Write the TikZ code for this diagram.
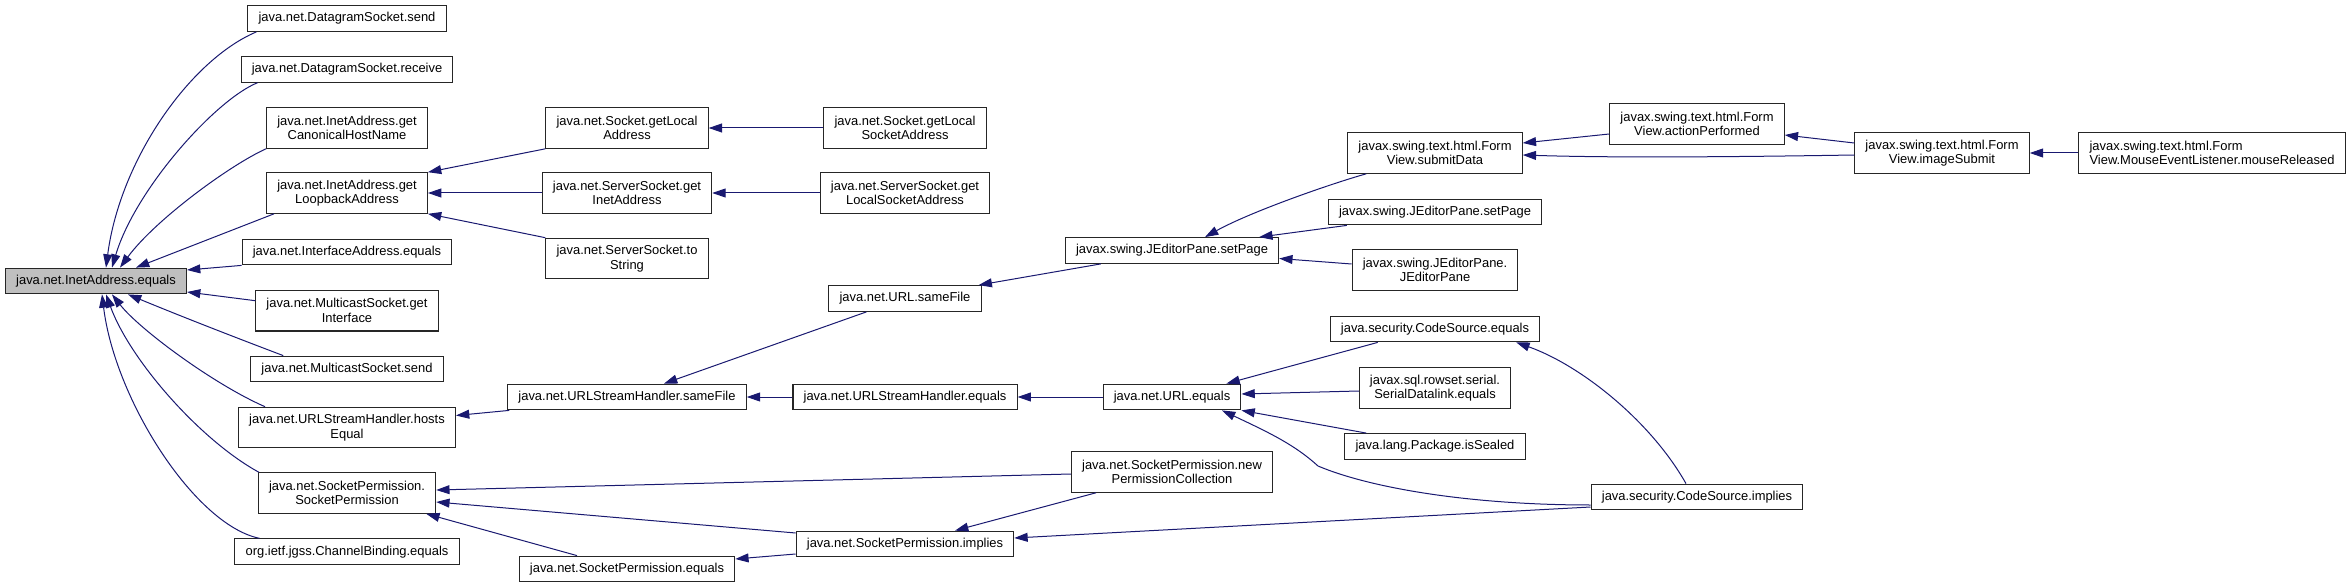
\documentclass[tikz,border=0pt]{standalone}
\usepackage{fontspec}
\setmainfont{Liberation Sans}
\usetikzlibrary{arrows.meta,calc}
\definecolor{edgeblue}{HTML}{191970}
\definecolor{rootgray}{HTML}{BFBFBF}
\begin{document}
\begin{tikzpicture}[x=0.75pt,y=-0.75pt,
  box/.style={draw=black!85,line width=0.8pt,fill=white,font=\fontsize{9.7pt}{11pt}\selectfont,inner xsep=8pt,inner ysep=2pt,minimum height=19.3pt,align=center},
  box2/.style={box,minimum height=30.4pt},
  edge/.style={draw=edgeblue,line width=0.75pt,-{Triangle[length=10pt,width=6.7pt]}}]
\useasboundingbox (0,0) rectangle (2352,588);

% root
\node[box,fill=rootgray] (root) at (96,281) {java.net.InetAddress.equals};

% column 1
\node[box]  (c1a) at (347,18.5)  {java.net.DatagramSocket.send};
\node[box]  (c1b) at (347,69.3)  {java.net.DatagramSocket.receive};
\node[box2] (c1c) at (347,128)   {java.net.InetAddress.get\\CanonicalHostName};
\node[box2] (c1d) at (347,193)   {java.net.InetAddress.get\\LoopbackAddress};
\node[box]  (c1e) at (347,252)   {java.net.InterfaceAddress.equals};
\node[box2] (c1f) at (347,310.7) {java.net.MulticastSocket.get\\Interface};
\node[box]  (c1g) at (347,369)   {java.net.MulticastSocket.send};
\node[box2] (c1h) at (347,427.5) {java.net.URLStreamHandler.hosts\\Equal};
\node[box2] (c1i) at (347,493)   {java.net.SocketPermission.\\SocketPermission};
\node[box]  (c1j) at (347,551.7) {org.ietf.jgss.ChannelBinding.equals};

% column 2
\node[box2] (sgla)  at (627,128)   {java.net.Socket.getLocal\\Address};
\node[box2] (ssgi)  at (627,193)   {java.net.ServerSocket.get\\InetAddress};
\node[box2] (ssts)  at (627,258.5) {java.net.ServerSocket.to\\String};
\node[box]  (ushsf) at (627,397)   {java.net.URLStreamHandler.sameFile};
\node[box]  (spe)   at (627,569)   {java.net.SocketPermission.equals};

% column 3
\node[box2] (sglsa)  at (905,128)   {java.net.Socket.getLocal\\SocketAddress};
\node[box2] (ssglsa) at (905,193)   {java.net.ServerSocket.get\\LocalSocketAddress};
\node[box]  (urlsf)  at (905,298.5) {java.net.URL.sameFile};
\node[box]  (ushe)   at (905,397)   {java.net.URLStreamHandler.equals};
\node[box]  (spi)    at (905,544)   {java.net.SocketPermission.implies};

% column 4
\node[box]  (jsp1)  at (1172,250.5) {javax.swing.JEditorPane.setPage};
\node[box]  (urle)  at (1172,397)   {java.net.URL.equals};
\node[box2] (spnpc) at (1172,472)   {java.net.SocketPermission.new\\PermissionCollection};

% column 5
\node[box2] (fvsd) at (1435,153)   {javax.swing.text.html.Form\\View.submitData};
\node[box]  (jsp2) at (1435,212)   {javax.swing.JEditorPane.setPage};
\node[box2] (jejp) at (1435,270)   {javax.swing.JEditorPane.\\JEditorPane};
\node[box]  (cse)  at (1435,329)   {java.security.CodeSource.equals};
\node[box2] (sdl)  at (1435,388)   {javax.sql.rowset.serial.\\SerialDatalink.equals};
\node[box]  (pis)  at (1435,446.5) {java.lang.Package.isSealed};

% columns 6-8
\node[box2] (fvap) at (1697,124) {javax.swing.text.html.Form\\View.actionPerformed};
\node[box]  (csi)  at (1697,497) {java.security.CodeSource.implies};
\node[box2] (fvis) at (1942,153) {javax.swing.text.html.Form\\View.imageSubmit};
\node[box2,align=left] (fvml) at (2212,153) {javax.swing.text.html.Form\\View.MouseEventListener.mouseReleased};

% edges into root
\draw[edge] ($(c1a.south west)+(9,0)$) .. controls (190,60) and (120,160) .. ($(root.north)+(10,0)$);
\draw[edge] ($(c1b.south west)+(17,0)$) .. controls (215,100) and (135,190) .. ($(root.north)+(16,0)$);
\draw[edge] (c1c.south west) .. controls (230,165) and (155,220) .. ($(root.north)+(24,0)$);
\draw[edge] ($(c1d.south west)+(8,0)$) -- ($(root.north)+(40,0)$);
\draw[edge] (c1e.south west) -- ($(root.east)+(0,-11)$);
\draw[edge] ($(c1f.west)+(0,-10)$) -- ($(root.east)+(0,11)$);
\draw[edge] ($(c1g.north west)+(33,0)$) .. controls (250,343) and (190,320) .. ($(root.south)+(32,0)$);
\draw[edge] ($(c1h.north west)+(27,0)$) .. controls (215,385) and (140,330) .. ($(root.south)+(16,0)$);
\draw[edge] ($(c1i.north west)+(1,0)$) .. controls (200,440) and (130,360) .. ($(root.south)+(10,0)$);
\draw[edge] ($(c1j.north west)+(25,0)$) .. controls (195,525) and (115,400) .. ($(root.south)+(6,0)$);

% other edges
\draw[edge] (sgla.south west) -- (c1d.north east);
\draw[edge] (ssgi.west) -- (c1d.east);
\draw[edge] (ssts.north west) -- (c1d.south east);
\draw[edge] (sglsa.west) -- (sgla.east);
\draw[edge] (ssglsa.west) -- (ssgi.east);
\draw[edge] ($(ushsf.south west)+(2,0)$) -- ($(c1h.east)+(0,-12)$);
\draw[edge] ($(urlsf.south west)+(38,0)$) -- ($(ushsf.north)+(37,0)$);
\draw[edge] (ushe.west) -- (ushsf.east);
\draw[edge] (urle.west) -- (ushe.east);
\draw[edge] ($(jsp1.south west)+(36,0)$) -- ($(urlsf.north east)+(-3,0)$);
\draw[edge] ($(fvsd.south west)+(19,0)$) .. controls (1330,184) and (1250,212) .. ($(jsp1.north)+(33,0)$);
\draw[edge] ($(jsp2.south west)+(19,0)$) -- ($(jsp1.north east)+(-20,0)$);
\draw[edge] ($(jejp.west)+(0,-6)$) -- ($(jsp1.east)+(0,8)$);
\draw[edge] ($(fvap.west)+(0,10)$) -- ($(fvsd.east)+(0,-10)$);
\draw[edge] ($(fvis.west)+(0,-10)$) -- ($(fvap.east)+(0,11)$);
\draw[edge] ($(fvis.west)+(0,2)$) .. controls (1700,157.5) and (1600,157.5) .. ($(fvsd.east)+(0,2)$);
\draw[edge] (fvml.west) -- (fvis.east);
\draw[edge] ($(cse.south west)+(48,0)$) -- ($(urle.north east)+(-15,0)$);
\draw[edge] ($(sdl.west)+(0,3)$) -- ($(urle.east)+(0,-3)$);
\draw[edge] ($(pis.north west)+(22,0)$) -- (urle.south east);
\draw[edge] ($(csi.west)+(0,8)$) .. controls (1470,505) and (1370,488) .. (1318,466) .. controls (1295,445) and (1270,433) .. ($(urle.south)+(50,0)$);
\draw[edge] ($(csi.north)+(-11,0)$) .. controls (1650,420) and (1580,365) .. ($(cse.south east)+(-24,0)$);
\draw[edge] ($(csi.west)+(0,10)$) -- ($(spi.east)+(0,-6)$);
\draw[edge] ($(spnpc.west)+(0,2)$) -- ($(c1i.east)+(0,-3)$);
\draw[edge] ($(spnpc.south west)+(25,0)$) -- ($(spi.north)+(50,0)$);
\draw[edge] ($(spi.west)+(0,-11)$) -- ($(c1i.east)+(0,9)$);
\draw[edge] ($(spi.west)+(0,10)$) -- ($(spe.east)+(0,-10)$);
\draw[edge] ($(spe.north)+(-50,0)$) -- ($(c1i.south east)+(-10,0)$);
\end{tikzpicture}
\end{document}
